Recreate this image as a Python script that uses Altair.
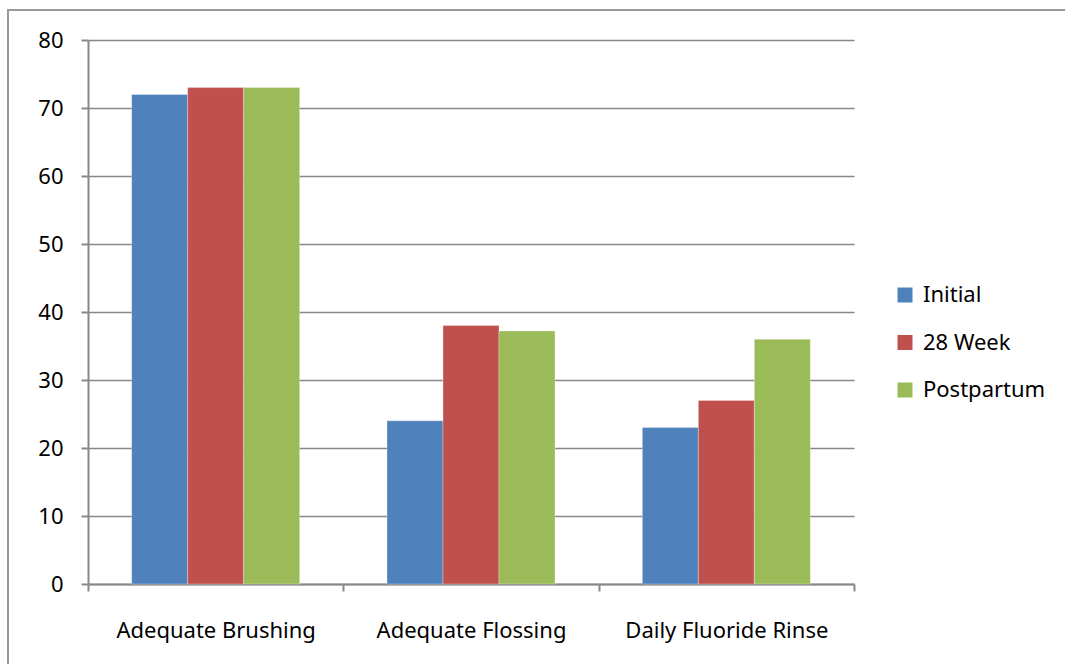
import altair as alt
import pandas as pd

categories = ["Adequate Brushing", "Adequate Flossing", "Daily Fluoride Rinse"]
series = ["Initial", "28 Week", "Postpartum"]
initial = [72, 24, 23]
week28 = [73, 38, 27]
postpartum = [73, 37.2, 36]
colors = ["#4F81BD", "#C0504D", "#9BBB59"]

rows = []
for i, c in enumerate(categories):
    for s, vals in zip(series, [initial, week28, postpartum]):
        rows.append({"category": c, "series": s, "value": vals[i]})
df = pd.DataFrame(rows)

FONT = "Noto Sans"
GRAY = "#888888"
FS = 22

bars = alt.Chart(df).mark_bar(stroke="#ffffff", strokeWidth=0.6, strokeOpacity=0.5).encode(
    x=alt.X("category:N", sort=categories, title=None,
            scale=alt.Scale(paddingInner=0, paddingOuter=0),
            axis=alt.Axis(labelAngle=0, tickBand="extent", tickSize=7, tickColor=GRAY,
                          tickWidth=2, domainColor=GRAY, domainWidth=2,
                          labelPadding=29, labelFontSize=FS, labelFont=FONT,
                          labelLimit=400, labelColor="#000000", grid=False)),
    xOffset=alt.XOffset("series:N", sort=series,
                        scale=alt.Scale(paddingInner=0, paddingOuter=0.78)),
    y=alt.Y("value:Q", title=None,
            scale=alt.Scale(domain=[0, 80], nice=False),
            axis=alt.Axis(values=list(range(0, 81, 10)), tickSize=7, tickColor=GRAY,
                          tickWidth=2, domainColor=GRAY, domainWidth=2,
                          gridColor=GRAY, gridWidth=1.5, labelPadding=18,
                          labelFontSize=FS, labelFont=FONT, labelColor="#000000")),
    color=alt.Color("series:N", sort=series, title=None,
                    scale=alt.Scale(domain=series, range=colors),
                    legend=alt.Legend(orient="none", legendX=806, legendY=244,
                                      symbolType="square", symbolSize=225,
                                      symbolStrokeWidth=0, labelFontSize=FS,
                                      labelFont=FONT, labelColor="#000000",
                                      rowPadding=25.5, labelOffset=7)),
)

frame = alt.Chart(pd.DataFrame({"a": [0]})).mark_rect(
    fill=None, stroke="#999999", strokeWidth=2, clip=False
).encode(
    x=alt.value(-80), x2=alt.value(1100), y=alt.value(-30), y2=alt.value(700)
)

chart = alt.layer(frame, bars).properties(
    width=766, height=544,
    padding={"left": 88, "top": 40, "right": 211, "bottom": 80},
    autosize=alt.AutoSizeParams(type="none"),
    background="#ffffff",
).configure_view(stroke=None)

chart.save("out.html", embed_options={"renderer": "svg", "actions": False})
